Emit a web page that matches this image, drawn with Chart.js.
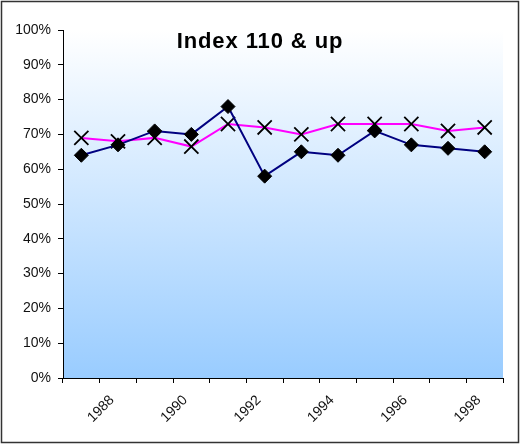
<!DOCTYPE html>
<html>
<head>
<meta charset="utf-8">
<script src="https://cdn.jsdelivr.net/npm/chart.js@4.4.1/dist/chart.umd.min.js"></script>
<style>
  html, body { margin: 0; padding: 0; background: #fff; }
  #wrap { position: relative; width: 520px; height: 444px; }
  #title {
    position: absolute; left: 0; width: 520px; top: 28px; text-align: center;
    font: bold 22px "Liberation Sans", Arial, sans-serif; letter-spacing: 0.9px; color: #000;
  }
</style>
</head>
<body>
<div id="wrap">
  <canvas id="chart" width="520" height="444"></canvas>
  <div id="title">Index 110 &amp; up</div>
</div>
<script>
const years = ['1987', '1988', '1989', '1990', '1991', '1992', '1993', '1994', '1995', '1996', '1997', '1998'];
const seriesA = [64, 67, 71, 70, 78, 58, 65, 64, 71, 67, 66, 65];
const seriesB = [69, 68, 69, 66.5, 73, 72, 70, 73, 73, 73, 71, 72];
const yTicks = [0, 10, 20, 30, 40, 50, 60, 70, 80, 90, 100];

const bgPlugin = {
  id: 'bg',
  beforeDraw(chart) {
    const { ctx, chartArea: a } = chart;
    const g = ctx.createLinearGradient(0, a.top, 0, a.bottom);
    g.addColorStop(0, '#ffffff');
    g.addColorStop(1, '#99ccff');
    ctx.save();
    ctx.fillStyle = g;
    ctx.fillRect(a.left, a.top, a.right - a.left, a.bottom - a.top);
    ctx.restore();
  },
  afterDraw(chart) {
    const ctx = chart.ctx;
    ctx.save();
    ctx.strokeStyle = '#333';
    ctx.lineWidth = 1.5;
    ctx.strokeRect(1.5, 1.5, 517, 441);
    ctx.restore();
  }
};

const tickFont = { family: '"Liberation Sans", Arial, sans-serif', size: 14 };

new Chart(document.getElementById('chart'), {
  type: 'line',
  data: {
    labels: years,
    datasets: [
      {
        data: seriesA,
        borderColor: '#000080',
        borderWidth: 2,
        pointStyle: 'rectRot',
        pointRadius: 7,
        pointBackgroundColor: '#000',
        pointBorderColor: '#000',
        pointBorderWidth: 1,
        tension: 0
      },
      {
        data: seriesB,
        borderColor: '#ff00ff',
        borderWidth: 2,
        pointStyle: 'crossRot',
        pointRadius: 10,
        pointBorderColor: '#000',
        pointBorderWidth: 1.8,
        tension: 0
      }
    ]
  },
  options: {
    responsive: false,
    animation: false,
    layout: { padding: { left: 0, right: 17, top: 30, bottom: 0 } },
    plugins: { legend: { display: false }, tooltip: { enabled: false } },
    scales: {
      x: {
        offset: true,
        afterFit(s) { s.height = 66; },
        border: { color: '#000', width: 1 },
        grid: { offset: true, drawOnChartArea: false, drawTicks: true, tickLength: 5, color: '#000' },
        ticks: {
          autoSkip: false,
          minRotation: 45,
          maxRotation: 45,
          padding: 9,
          labelOffset: -6,
          color: '#111',
          font: tickFont,
          callback(v, i) { return i % 2 === 1 ? years[i] : ''; }
        }
      },
      y: {
        min: 0,
        max: 100,
        afterFit(s) { s.width = 63; },
        afterBuildTicks(s) { s.ticks = yTicks.map(v => ({ value: v })); },
        border: { color: '#000', width: 1 },
        grid: { drawOnChartArea: false, drawTicks: true, tickLength: 5, color: '#000' },
        ticks: {
          padding: 7,
          color: '#111',
          font: tickFont,
          callback(v) { return v + '%'; }
        }
      }
    }
  },
  plugins: [bgPlugin]
});
</script>
</body>
</html>
